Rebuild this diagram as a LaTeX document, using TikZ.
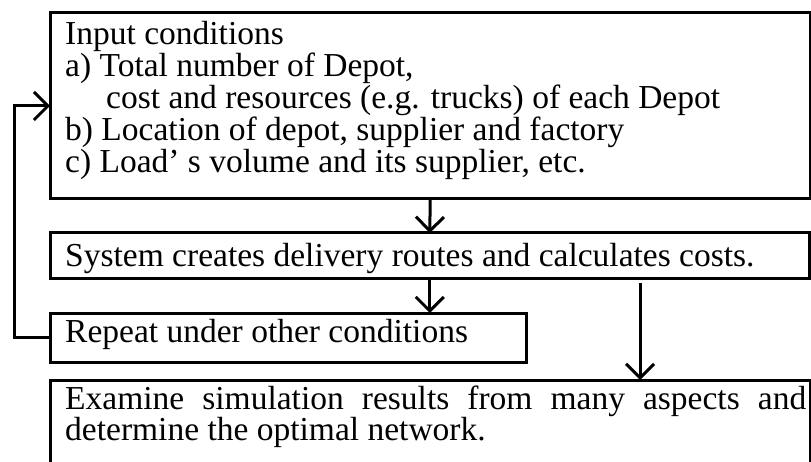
\documentclass[tikz,border=0pt]{standalone}
\usepackage{fontspec}
\setmainfont{Liberation Serif}
\usetikzlibrary{arrows.meta}

\begin{document}
\begin{tikzpicture}[x=1pt, y=-1pt,
  box/.style={draw, line width=3pt, inner sep=0pt, outer sep=0pt, anchor=north west},
  txt/.style={anchor=base west, inner sep=0pt, font=\fontsize{33.5}{33.5}\selectfont},
  flow/.style={line width=3pt, -{Straight Barb[length=14pt, width=28pt]}}]

  \useasboundingbox (0,0) rectangle (811,462);

  % process boxes
  \node[box, minimum width=760.5pt, minimum height=186pt] (b1) at (50,13) {};
  \node[box, minimum width=759.5pt, minimum height=46pt]  (b2) at (50,233) {};
  \node[box, minimum width=476pt,   minimum height=49pt]  (b3) at (50,313) {};
  \node[box, minimum width=760.5pt, minimum height=120pt] (b4) at (50,380) {};

  % input conditions
  \node[txt] (t11) at (65,45)  {Input conditions};
  \node[txt] (t12) at (65,77)  {a) Total number of Depot,};
  \node[txt] (t13) at (106,109) {cost and resources (e.g. trucks) of each Depot};
  \node[txt] (t14) at (65,141) {b) Location of depot, supplier and factory};
  \node[txt] (t15) at (65,173) {c) Load’ s volume and its supplier, etc.};

  % calculation step
  \node[txt] (t2) at (65,267) {System creates delivery routes and calculates costs.};

  % repetition step
  \node[txt] (t3) at (65,342) {Repeat under other conditions};

  % evaluation step
  \node[txt] (t41) at (65,409) {\makebox[741pt][s]{Examine simulation results from many aspects and}};
  \node[txt] (t42) at (65,440) {determine the optimal network.};

  % connectors
  \draw[flow] (b1.south) -- (b2.north);
  \draw[flow] (b2.south) -- (b2.south |- b3.north);
  \draw[flow] ([xshift=590pt, yshift=-4pt]b2.south west) -- ([xshift=590pt]b4.north west);
  \draw[flow] (b3.west) -- ++(-36,0) |- (b1.west);
\end{tikzpicture}
\end{document}
